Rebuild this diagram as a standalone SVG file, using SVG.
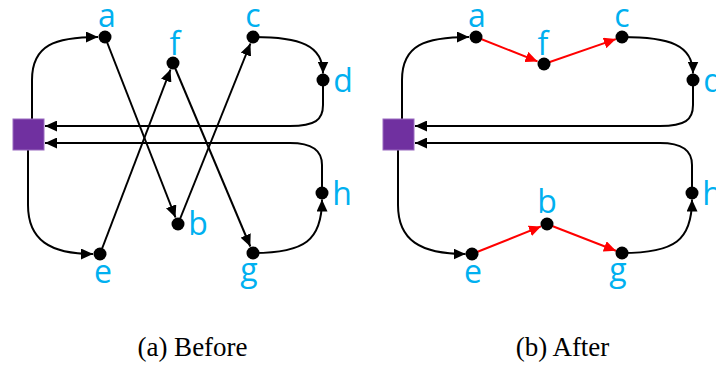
<svg xmlns="http://www.w3.org/2000/svg" width="716" height="367" viewBox="0 0 716 367">
<style>
.e{fill:none;stroke:#000;stroke-width:2;marker-end:url(#ab)}
.r{fill:none;stroke:#FF0000;stroke-width:2;marker-end:url(#ar)}
.n{fill:#000}
.l{font-family:"Open Sans","Noto Sans",sans-serif;font-size:32px;fill:#00B0F0;text-anchor:middle}
.sq{fill:#7030A0;stroke:#9A6ABF;stroke-width:1}
.cap{font-family:"Liberation Serif",serif;font-size:27px;fill:#000;text-anchor:middle}
</style>
<defs>
<marker id="ab" markerUnits="userSpaceOnUse" markerWidth="13" markerHeight="11" refX="12" refY="5.5" orient="auto"><path d="M0,0 L12,5.5 L0,11 z" fill="#000"/></marker>
<marker id="ar" markerUnits="userSpaceOnUse" markerWidth="13" markerHeight="11" refX="12" refY="5.5" orient="auto"><path d="M0,0 L12,5.5 L0,11 z" fill="#FF0000"/></marker>
</defs>
<rect width="716" height="367" fill="#fff"/>
<g id="connectors">
<path class="e" d="M32,119 L32,80 C32,45 55,37 98,37"/>
<path class="e" d="M28,150 L28,205 C28,240 50,254 93,254"/>
<path class="e" d="M105,37 L175.5,217.5"/>
<path class="e" d="M100,254 L170.5,69.5"/>
<path class="e" d="M178,224 L250.4,43.5"/>
<path class="e" d="M173,63 L250.3,246.5"/>
<path class="e" d="M253,37 C300,37 323,45 323,73.5"/>
<path class="e" d="M323,80 L323,105 C323,120 315,126 290,126 L45,126"/>
<path class="e" d="M253,253 C305,253 322,240 322,199.5"/>
<path class="e" d="M322,193 L322,165 C322,150 312,143 290,143 L45,143"/>
<path class="e" d="M402,119 L402,80 C402,45 425,37 469,37"/>
<path class="e" d="M398,150 L398,205 C398,240 420,254 465.5,254"/>
<path class="r" d="M476,37 L537.5,61.4"/>
<path class="r" d="M544,64 L615.9,39.1"/>
<path class="r" d="M472,254 L541,226.4"/>
<path class="r" d="M547,224 L615.9,250.7"/>
<path class="e" d="M622,37 C670,37 693,45 693,73.5"/>
<path class="e" d="M693,80 L693,105 C693,120 685,126 660,126 L415,126"/>
<path class="e" d="M622,253 C675,253 692,240 692,199.5"/>
<path class="e" d="M692,193 L692,165 C692,150 682,143 660,143 L415,143"/>
</g>
<g id="left">
<g id="L-src"><rect class="sq" x="13" y="119" width="31" height="31"/></g>
<g id="L-a"><circle class="n" cx="105" cy="37" r="6.5"/><text class="l" x="107" y="27">a</text></g>
<g id="L-f"><circle class="n" cx="173" cy="63" r="6.5"/><text class="l" x="175" y="55">f</text></g>
<g id="L-c"><circle class="n" cx="253" cy="37" r="6.5"/><text class="l" x="253" y="27">c</text></g>
<g id="L-d"><circle class="n" cx="323" cy="80" r="6.5"/><text class="l" x="343" y="92">d</text></g>
<g id="L-b"><circle class="n" cx="178" cy="224" r="6.5"/><text class="l" x="198" y="235">b</text></g>
<g id="L-e"><circle class="n" cx="100" cy="254" r="6.5"/><text class="l" x="103" y="283">e</text></g>
<g id="L-g"><circle class="n" cx="253" cy="253" r="6.5"/><text class="l" x="249" y="281">g</text></g>
<g id="L-h"><circle class="n" cx="322" cy="193" r="6.5"/><text class="l" x="342" y="205">h</text></g>
</g>
<g id="right">
<g id="R-src"><rect class="sq" x="383" y="119" width="31" height="31"/></g>
<g id="R-a"><circle class="n" cx="476" cy="37" r="6.5"/><text class="l" x="477" y="27">a</text></g>
<g id="R-f"><circle class="n" cx="544" cy="64" r="6.5"/><text class="l" x="543" y="55">f</text></g>
<g id="R-c"><circle class="n" cx="622" cy="37" r="6.5"/><text class="l" x="622" y="27">c</text></g>
<g id="R-d"><circle class="n" cx="693" cy="80" r="6.5"/><text class="l" x="713" y="92">d</text></g>
<g id="R-b"><circle class="n" cx="547" cy="224" r="6.5"/><text class="l" x="547" y="213">b</text></g>
<g id="R-e"><circle class="n" cx="472" cy="254" r="6.5"/><text class="l" x="473" y="283">e</text></g>
<g id="R-g"><circle class="n" cx="622" cy="253" r="6.5"/><text class="l" x="618" y="281">g</text></g>
<g id="R-h"><circle class="n" cx="692" cy="193" r="6.5"/><text class="l" x="712" y="205">h</text></g>
</g>
<text class="cap" x="192.5" y="356">(a) Before</text>
<text class="cap" x="562.5" y="356">(b) After</text>
</svg>
